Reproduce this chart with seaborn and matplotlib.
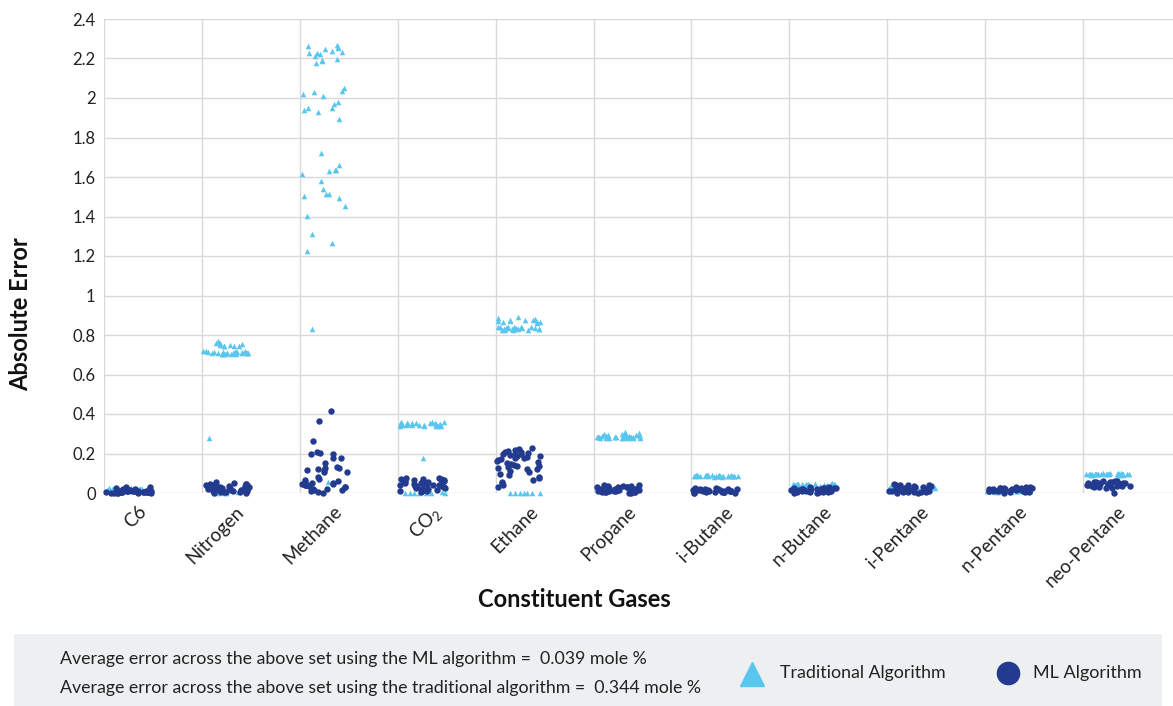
import numpy as np
import pandas as pd
import matplotlib
matplotlib.use("Agg")
import matplotlib.pyplot as plt
import matplotlib.transforms as mtransforms
from matplotlib.lines import Line2D
from matplotlib.patches import Rectangle
from matplotlib.ticker import FixedLocator, FuncFormatter
import seaborn as sns

# ---- data -------------------------------------------------------------
gases = ["C6", "Nitrogen", "Methane", "CO2", "Ethane", "Propane",
         "i-Butane", "n-Butane", "i-Pentane", "n-Pentane", "neo-Pentane"]
gas_labels = ["C6", "Nitrogen", "Methane", "CO$_2$", "Ethane", "Propane",
              "i-Butane", "n-Butane", "i-Pentane", "n-Pentane", "neo-Pentane"]

trad_c6 = [0.018, 0.021, 0.015, 0.019, 0.022, 0.017, 0.020, 0.014, 0.023, 0.016, 0.019, 0.021,
           0.018, 0.024, 0.015, 0.020, 0.017, 0.022, 0.019, 0.016, 0.021, 0.018, 0.020, 0.023,
           0.015, 0.019, 0.017, 0.022, 0.020, 0.018, 0.016, 0.021, 0.019, 0.024, 0.017]
ml_c6 = [0.004, 0.010, 0.002, 0.015, 0.007, 0.000, 0.012, 0.020, 0.005, 0.009, 0.028, 0.003,
         0.011, 0.006, 0.017, 0.001, 0.008, 0.013, 0.004, 0.022, 0.002, 0.010, 0.006, 0.014,
         0.000, 0.031, 0.007, 0.003, 0.012, 0.005, 0.018, 0.009, 0.001, 0.011, 0.004, 0.025,
         0.006, 0.008]

trad_nitrogen = [0.752, 0.745, 0.768, 0.748, 0.757, 0.742, 0.761, 0.746, 0.751, 0.744,
                 0.712, 0.705, 0.718, 0.709, 0.714, 0.703, 0.716, 0.708, 0.711, 0.706,
                 0.719, 0.713, 0.704, 0.710, 0.715, 0.707, 0.712, 0.717, 0.709, 0.703,
                 0.714, 0.708, 0.711, 0.716, 0.706, 0.710, 0.278,
                 0.002, 0.001, 0.003, 0.000]
ml_nitrogen = [0.005, 0.012, 0.028, 0.041, 0.018, 0.003, 0.035, 0.052, 0.022, 0.009, 0.046,
               0.015, 0.031, 0.001, 0.025, 0.038, 0.011, 0.057, 0.020, 0.007, 0.043, 0.016,
               0.029, 0.004, 0.034, 0.013, 0.048, 0.023, 0.008, 0.039, 0.019, 0.002, 0.027,
               0.044, 0.014, 0.032, 0.010, 0.024]

trad_methane = [2.265, 2.230, 2.176, 2.213, 2.226, 2.221, 2.187, 2.270, 2.260, 2.248,
                2.192, 2.195, 2.235, 2.238, 2.251,
                2.052, 2.020, 2.035, 2.030, 2.012, 1.978, 1.968, 1.948, 1.948, 1.939,
                1.929, 1.894,
                1.722, 1.629, 1.637, 1.661, 1.637, 1.615, 1.580, 1.539, 1.505, 1.514,
                1.514, 1.492, 1.453, 1.403, 1.311, 1.267, 1.224,
                0.830, 0.055, 0.048]
ml_methane = [0.417, 0.365, 0.263, 0.206, 0.196, 0.179, 0.196, 0.203, 0.179, 0.152,
              0.127, 0.122, 0.116, 0.105, 0.130, 0.128, 0.116, 0.105, 0.079, 0.066,
              0.073, 0.057, 0.052, 0.062, 0.049, 0.044, 0.039, 0.034, 0.044, 0.041,
              0.041, 0.029, 0.015, 0.010, 0.022, 0.032, 0.019, 0.007, 0.000, 0.015]

trad_co2 = [0.352, 0.345, 0.358, 0.340, 0.349, 0.362, 0.343, 0.355, 0.347, 0.338, 0.351,
            0.344, 0.357, 0.341, 0.348, 0.353, 0.339, 0.346, 0.350, 0.342, 0.356, 0.344,
            0.349, 0.337, 0.354, 0.347, 0.343, 0.351, 0.176,
            0.001, 0.000, 0.002, 0.001, 0.000, 0.003, 0.001, 0.002]
ml_co2 = [0.052, 0.038, 0.071, 0.015, 0.063, 0.044, 0.027, 0.076, 0.008, 0.058, 0.035,
          0.067, 0.021, 0.049, 0.073, 0.012, 0.041, 0.061, 0.030, 0.055, 0.004, 0.069,
          0.046, 0.024, 0.064, 0.037, 0.017, 0.057, 0.074, 0.033, 0.050, 0.010, 0.066,
          0.042, 0.028, 0.060, 0.047, 0.019]

trad_ethane = [0.872, 0.880, 0.865, 0.889, 0.875, 0.868, 0.878, 0.862, 0.884, 0.870,
               0.876, 0.866, 0.832, 0.838, 0.827, 0.841, 0.830, 0.835, 0.824, 0.839,
               0.833, 0.828, 0.843, 0.831, 0.836, 0.826, 0.840, 0.834, 0.829, 0.837,
               0.825, 0.833, 0.842, 0.830,
               0.001, 0.000, 0.002, 0.001, 0.000, 0.002, 0.001]
ml_ethane = [0.205, 0.188, 0.221, 0.176, 0.150, 0.132, 0.198, 0.214, 0.167, 0.143, 0.226,
             0.192, 0.121, 0.108, 0.182, 0.157, 0.095, 0.210, 0.136, 0.083, 0.171, 0.064,
             0.128, 0.199, 0.052, 0.146, 0.219, 0.075, 0.185, 0.040, 0.113, 0.161, 0.028,
             0.137, 0.207, 0.090, 0.178, 0.058, 0.124, 0.195]

trad_propane = [0.283, 0.290, 0.305, 0.278, 0.296, 0.286, 0.281, 0.310, 0.288, 0.279,
                0.293, 0.284, 0.300, 0.282, 0.287, 0.280, 0.291, 0.285, 0.298, 0.281,
                0.289, 0.277, 0.284, 0.295, 0.283, 0.286, 0.279, 0.292, 0.282, 0.288,
                0.280, 0.285]
ml_propane = [0.012, 0.028, 0.005, 0.035, 0.019, 0.002, 0.024, 0.040, 0.009, 0.016, 0.031,
              0.001, 0.021, 0.014, 0.037, 0.007, 0.026, 0.011, 0.033, 0.003, 0.018, 0.029,
              0.006, 0.022, 0.013, 0.038, 0.008, 0.025, 0.015, 0.004, 0.030, 0.010, 0.020,
              0.017]

trad_ibutane = [0.086, 0.089, 0.084, 0.091, 0.087, 0.083, 0.088, 0.085, 0.090, 0.086,
                0.084, 0.089, 0.087, 0.092, 0.085, 0.088, 0.083, 0.086, 0.090, 0.087,
                0.084, 0.088, 0.086, 0.089, 0.085, 0.087, 0.091, 0.084, 0.088, 0.086]
ml_ibutane = [0.012, 0.005, 0.020, 0.009, 0.016, 0.002, 0.023, 0.011, 0.007, 0.018, 0.004,
              0.014, 0.021, 0.008, 0.001, 0.017, 0.010, 0.025, 0.006, 0.013, 0.019, 0.003,
              0.015, 0.009, 0.022, 0.012, 0.000, 0.016, 0.007, 0.020]

trad_nbutane = [0.042, 0.047, 0.038, 0.045, 0.040, 0.049, 0.036, 0.044, 0.041, 0.046,
                0.039, 0.043, 0.048, 0.037, 0.045, 0.042, 0.040, 0.046, 0.038, 0.044,
                0.041, 0.047, 0.039, 0.043, 0.045, 0.040, 0.042, 0.036, 0.046, 0.044]
ml_nbutane = [0.018, 0.006, 0.025, 0.012, 0.030, 0.003, 0.021, 0.009, 0.016, 0.027, 0.001,
              0.014, 0.023, 0.007, 0.019, 0.011, 0.028, 0.004, 0.015, 0.022, 0.008, 0.013,
              0.026, 0.002, 0.017, 0.010, 0.024, 0.005, 0.020, 0.012]

trad_ipentane = [0.028, 0.032, 0.024, 0.030, 0.026, 0.034, 0.022, 0.029, 0.031, 0.025,
                 0.027, 0.033, 0.023, 0.030, 0.028, 0.026, 0.032, 0.024, 0.029, 0.031,
                 0.027, 0.025, 0.033, 0.028, 0.030]
ml_ipentane = [0.038, 0.005, 0.022, 0.042, 0.011, 0.029, 0.001, 0.035, 0.016, 0.008, 0.044,
               0.019, 0.003, 0.026, 0.040, 0.013, 0.031, 0.006, 0.024, 0.010, 0.037, 0.002,
               0.018, 0.033, 0.007, 0.015, 0.041, 0.021, 0.004, 0.012]

trad_npentane = [0.010, 0.013, 0.007, 0.012, 0.009, 0.015, 0.006, 0.011, 0.014, 0.008,
                 0.012, 0.010, 0.013, 0.007, 0.011, 0.009, 0.014, 0.010, 0.012, 0.008,
                 0.011, 0.013, 0.009, 0.010, 0.012]
ml_npentane = [0.015, 0.022, 0.008, 0.027, 0.012, 0.019, 0.004, 0.025, 0.017, 0.010, 0.029,
               0.014, 0.021, 0.006, 0.018, 0.024, 0.011, 0.002, 0.020, 0.016, 0.028, 0.009,
               0.023, 0.013, 0.026, 0.007, 0.019, 0.015, 0.030, 0.011]

trad_neopentane = [0.095, 0.098, 0.093, 0.097, 0.094, 0.099, 0.096, 0.092, 0.097, 0.095,
                   0.100, 0.093, 0.096, 0.098, 0.094, 0.097, 0.095, 0.092, 0.099, 0.096,
                   0.094, 0.098, 0.095, 0.097, 0.093, 0.096, 0.099, 0.094, 0.097, 0.095]
ml_neopentane = [0.045, 0.052, 0.038, 0.060, 0.031, 0.048, 0.056, 0.027, 0.042, 0.063,
                 0.035, 0.050, 0.040, 0.058, 0.024, 0.046, 0.054, 0.033, 0.044, 0.061,
                 0.037, 0.049, 0.029, 0.053, 0.041, 0.057, 0.036, 0.047, 0.002, 0.043,
                 0.051, 0.039]

traditional = [trad_c6, trad_nitrogen, trad_methane, trad_co2, trad_ethane, trad_propane,
               trad_ibutane, trad_nbutane, trad_ipentane, trad_npentane, trad_neopentane]
ml = [ml_c6, ml_nitrogen, ml_methane, ml_co2, ml_ethane, ml_propane,
      ml_ibutane, ml_nbutane, ml_ipentane, ml_npentane, ml_neopentane]

y_ticks = [0, 0.2, 0.4, 0.6, 0.8, 1.0, 1.2, 1.4, 1.6, 1.8, 2.0, 2.2, 2.4]

avg_ml = 0.039
avg_trad = 0.344

# ---- long-form table ----------------------------------------------------
rows = []
for gas, vals in zip(gases, traditional):
    rows += [(gas, v, "Traditional Algorithm") for v in vals]
for gas, vals in zip(gases, ml):
    rows += [(gas, v, "ML Algorithm") for v in vals]
df = pd.DataFrame(rows, columns=["gas", "error", "method"])

# ---- style ----------------------------------------------------------------
sns.set_style("white")
plt.rcParams["font.family"] = ["Lato", "DejaVu Sans"]
plt.rcParams["mathtext.default"] = "regular"

LIGHT = "#58C6EF"
DARK = "#233B8F"
GRID = "#D9D9D9"
TEXT = "#222222"

W, H = 1173, 706
fig = plt.figure(figsize=(W / 100, H / 100), dpi=100)
ax_left, ax_right, ax_top, ax_bottom = 104, 1173, 19, 493
ax = fig.add_axes([ax_left / W, 1 - ax_bottom / H,
                   (ax_right - ax_left) / W, (ax_bottom - ax_top) / H])

np.random.seed(7)
sns.stripplot(data=df[df.method == "Traditional Algorithm"], x="gas", y="error",
              order=gases, color=LIGHT, marker="^", size=4.0, jitter=0.235,
              linewidth=0, ax=ax, clip_on=False, zorder=3)
sns.stripplot(data=df[df.method == "ML Algorithm"], x="gas", y="error",
              order=gases, color=DARK, marker="o", size=4.6, jitter=0.235,
              linewidth=0, ax=ax, clip_on=False, zorder=4)

# ---- axes -------------------------------------------------------------------
unit_px = 97.9
ax.set_xlim(-0.25, -0.25 + (ax_right - ax_left) / unit_px)
ax.set_ylim(0, 2.4)

ax.yaxis.set_major_locator(FixedLocator(y_ticks))
ax.yaxis.set_major_formatter(FuncFormatter(lambda v, p: f"{v:g}"))
ax.xaxis.set_minor_locator(FixedLocator([i - 0.25 for i in range(len(gases))]))

ax.grid(False)
ax.yaxis.grid(True, which="major", color=GRID, linewidth=1.0, zorder=0)
ax.xaxis.grid(True, which="minor", color=GRID, linewidth=1.0, zorder=0)
ax.set_axisbelow(True)
for s in ax.spines.values():
    s.set_visible(False)

ax.tick_params(axis="both", which="both", length=0)
ax.tick_params(axis="y", pad=6, labelsize=12, labelcolor=TEXT)
ax.tick_params(axis="x", pad=7, labelsize=13.5, labelcolor=TEXT)

ax.set_xticks(range(len(gases)))
ax.set_xticklabels(gas_labels, rotation=45, ha="right", va="top",
                   rotation_mode="anchor")
shift = mtransforms.ScaledTranslation(9 / 100, 0, fig.dpi_scale_trans)
for lab in ax.get_xticklabels():
    lab.set_transform(lab.get_transform() + shift)

ax.set_xlabel("Constituent Gases", fontsize=17, fontweight="bold", color="#111111")
ax.set_ylabel("Absolute Error", fontsize=17, fontweight="bold", color="#111111")
ax.xaxis.set_label_coords((574 - ax_left) / (ax_right - ax_left),
                          -(588 - ax_bottom) / (ax_bottom - ax_top))
ax.yaxis.set_label_coords(-(104 - 32) / (ax_right - ax_left),
                          (ax_bottom - 314) / (ax_bottom - ax_top))

# ---- summary panel with legend ---------------------------------------------
fig.patches.append(Rectangle((14 / W, 0), (1162 - 14) / W, (706 - 634) / H,
                             transform=fig.transFigure, facecolor="#EEEFF1",
                             edgecolor="none", zorder=0))
fig.text(60 / W, 1 - 659 / H,
         f"Average error across the above set using the ML algorithm =  {avg_ml:.3f} mole %",
         fontsize=12.8, color=TEXT, va="center", ha="left")
fig.text(60 / W, 1 - 688 / H,
         f"Average error across the above set using the traditional algorithm =  {avg_trad:.3f} mole %",
         fontsize=12.8, color=TEXT, va="center", ha="left")

fig.add_artist(Line2D([752 / W], [1 - 674 / H], marker="^", markersize=17,
                      color=LIGHT, linestyle="none", transform=fig.transFigure))
fig.text(780 / W, 1 - 673 / H, "Traditional Algorithm", fontsize=12.8,
         color=TEXT, va="center", ha="left")
fig.add_artist(Line2D([1008 / W], [1 - 673 / H], marker="o", markersize=16,
                      color=DARK, linestyle="none", transform=fig.transFigure))
fig.text(1033 / W, 1 - 673 / H, "ML Algorithm", fontsize=13,
         color=TEXT, va="center", ha="left")

fig.savefig("out.png", dpi=100)
